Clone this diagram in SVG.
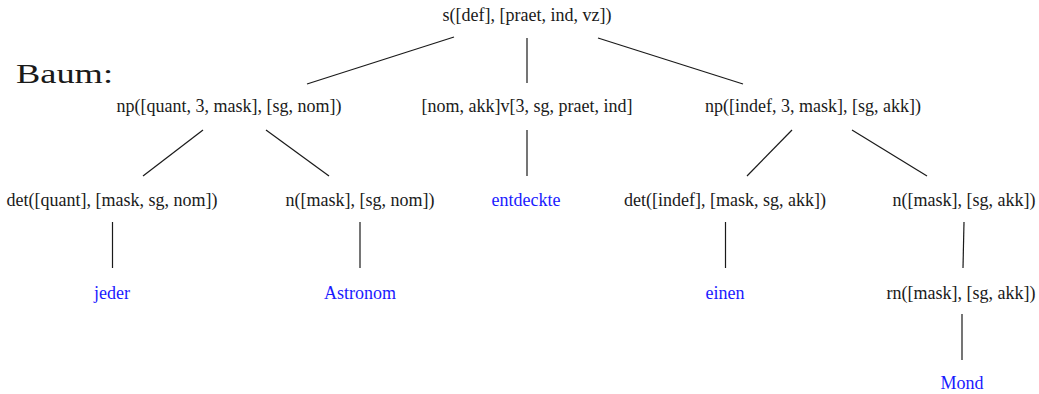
<svg xmlns="http://www.w3.org/2000/svg" width="1039" height="394" viewBox="0 0 1039 394">
  <style>
    .lbl { font-family: "Liberation Serif", "Times New Roman", serif; font-size: 18px; fill: #1a1a1a; text-anchor: middle; }
    .word { font-family: "Liberation Serif", "Times New Roman", serif; font-size: 18px; fill: #1a1aff; text-anchor: middle; }
    .title { font-family: "Liberation Serif", "Times New Roman", serif; font-size: 28px; fill: #1a1a1a; }
    .edge { stroke: #1a1a1a; stroke-width: 1.2; fill: none; }
  </style>
  <rect width="1039" height="394" fill="#ffffff"/>

  <text class="title" x="16" y="83" textLength="97" lengthAdjust="spacingAndGlyphs">Baum:</text>

  <g id="connectors">
    <line class="edge" x1="454" y1="37" x2="307" y2="84"/>
    <line class="edge" x1="527" y1="38" x2="527" y2="83"/>
    <line class="edge" x1="598" y1="38" x2="743" y2="84"/>
    <line class="edge" x1="203" y1="130" x2="143" y2="176"/>
    <line class="edge" x1="266" y1="130" x2="329" y2="176"/>
    <line class="edge" x1="527" y1="130" x2="527" y2="176"/>
    <line class="edge" x1="792" y1="130" x2="747" y2="176"/>
    <line class="edge" x1="852" y1="130" x2="927" y2="176"/>
    <line class="edge" x1="112.5" y1="222" x2="112.5" y2="268"/>
    <line class="edge" x1="360" y1="222" x2="360" y2="268"/>
    <line class="edge" x1="725.5" y1="222" x2="725.5" y2="268"/>
    <line class="edge" x1="964" y1="222" x2="963" y2="268"/>
    <line class="edge" x1="962" y1="314" x2="962" y2="360"/>
  </g>

  <g id="s"><text class="lbl" x="527" y="21">s([def], [praet, ind, vz])</text></g>
  <g id="np1"><text class="lbl" x="229" y="112">np([quant, 3, mask], [sg, nom])</text></g>
  <g id="v"><text class="lbl" x="527" y="112">[nom, akk]v[3, sg, praet, ind]</text></g>
  <g id="np2"><text class="lbl" x="813" y="112">np([indef, 3, mask], [sg, akk])</text></g>
  <g id="det1"><text class="lbl" x="112" y="206">det([quant], [mask, sg, nom])</text></g>
  <g id="n1"><text class="lbl" x="360" y="206">n([mask], [sg, nom])</text></g>
  <g id="entdeckte"><text class="word" x="526" y="206">entdeckte</text></g>
  <g id="det2"><text class="lbl" x="725" y="206">det([indef], [mask, sg, akk])</text></g>
  <g id="n2"><text class="lbl" x="964" y="206">n([mask], [sg, akk])</text></g>
  <g id="jeder"><text class="word" x="112" y="299">jeder</text></g>
  <g id="astronom"><text class="word" x="360" y="299">Astronom</text></g>
  <g id="einen"><text class="word" x="725" y="299">einen</text></g>
  <g id="rn"><text class="lbl" x="961" y="299">rn([mask], [sg, akk])</text></g>
  <g id="mond"><text class="word" x="962" y="389">Mond</text></g>
</svg>
